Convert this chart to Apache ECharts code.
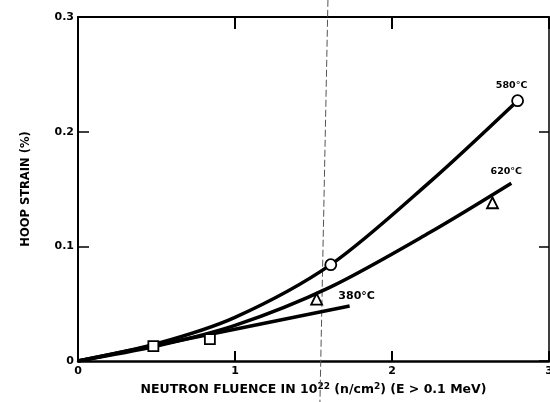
<!DOCTYPE html>
<html><head><meta charset="utf-8">
<script src="https://cdn.jsdelivr.net/npm/echarts@6/dist/echarts.min.js"></script>
<style>html,body{margin:0;padding:0;background:#fff}#c{width:550px;height:402px}</style>
</head><body><div id="c"></div>
<script>
// Axis ranges / ticks
const xTicks = [0, 1, 2, 3];
const yTicks = [0, 0.1, 0.2, 0.3];

// 580°C fitted curve and measured points (circles)
const curve580X = [0, 0.5, 1.0, 1.61, 2.24, 2.80];
const curve580Y = [0, 0.015, 0.038, 0.084, 0.156, 0.227];
const pts580X = [1.61, 2.80];
const pts580Y = [0.084, 0.227];

// 620°C fitted curve and measured points (triangles)
const curve620X = [0, 0.5, 1.0, 1.6, 2.24, 2.76];
const curve620Y = [0, 0.013, 0.031, 0.064, 0.112, 0.155];
const pts620X = [1.52, 2.64];
const pts620Y = [0.054, 0.138];

// 380°C fitted line and measured points (squares)
const curve380X = [0, 1.73];
const curve380Y = [0, 0.048];
const pts380X = [0.48, 0.84];
const pts380Y = [0.013, 0.019];

// scan artifact (thin vertical line)
const scanLineX = [1.592, 1.541];
const scanLineY = [0.315, -0.036];

const seriesLabels = ['580°C', '620°C', '380°C'];

const zip = (xs, ys) => xs.map((x, i) => [x, ys[i]]);
const FONT = 'DejaVu Sans';

function curveSeries(xs, ys, text, size, offset) {
  const last = xs.length - 1;
  return {
    type: 'line', data: zip(xs, ys), smooth: 0.3,
    symbol: 'circle', symbolSize: 1, showSymbol: true, showAllSymbol: true,
    itemStyle: {color: 'rgba(0,0,0,0)'},
    lineStyle: {color: '#000', width: 3.5}, z: 3,
    label: {show: true, position: 'inside', offset: offset,
      formatter: p => p.dataIndex === last ? text : '',
      color: '#000', fontFamily: FONT, fontWeight: 'bold', fontSize: size},
    emphasis: {disabled: true}, silent: true, animation: false
  };
}
function markerSeries(xs, ys, symbol, size) {
  return {
    type: 'scatter', data: zip(xs, ys), symbol: symbol, symbolSize: size,
    itemStyle: {color: '#fff', borderColor: '#000', borderWidth: 1.8, opacity: 1},
    z: 5, silent: true, animation: false
  };
}

const chart = echarts.init(document.getElementById('c'), null, {renderer: 'canvas'});
const xRange = {
  min: xTicks[0], max: xTicks[xTicks.length - 1], interval: xTicks[1] - xTicks[0]
};
const yRange = {
  min: yTicks[0], max: yTicks[yTicks.length - 1], interval: yTicks[1] - yTicks[0]
};
chart.setOption({
  backgroundColor: '#fff',
  animation: false,
  grid: {left: 78, right: 1, top: 17, bottom: 41, containLabel: false, outerBoundsMode: 'none'},
  xAxis: [{
    type: 'value', position: 'bottom', ...xRange,
    splitLine: {show: false},
    axisLine: {onZero: false, lineStyle: {color: '#000', width: 2.5}},
    axisTick: {inside: true, length: 10, lineStyle: {color: '#000', width: 2}},
    axisLabel: {color: '#000', fontFamily: FONT, fontWeight: 'bold', fontSize: 11, margin: 5},
    name: '{a|NEUTRON FLUENCE IN 10}{s|22}{a| (n/cm}{s|2}{a|) (E > 0.1 MeV)}',
    nameLocation: 'middle', nameGap: 21,
    nameTextStyle: {rich: {
      a: {color: '#000', fontFamily: FONT, fontWeight: 'bold', fontSize: 12.5},
      s: {color: '#000', fontFamily: FONT, fontWeight: 'bold', fontSize: 9, padding: [0, 0, 7, 0]}
    }}
  }, {
    type: 'value', position: 'top', ...xRange,
    splitLine: {show: false},
    axisLine: {onZero: false, lineStyle: {color: '#000', width: 2}},
    axisTick: {inside: true, length: 12, lineStyle: {color: '#000', width: 2}},
    axisLabel: {show: false}
  }],
  yAxis: [{
    type: 'value', position: 'left', ...yRange,
    splitLine: {show: false},
    axisLine: {onZero: false, lineStyle: {color: '#000', width: 2}},
    axisTick: {inside: true, length: 11, lineStyle: {color: '#000', width: 1.5}},
    axisLabel: {color: '#000', fontFamily: FONT, fontWeight: 'bold', fontSize: 11, margin: 4,
      formatter: v => v === 0 ? '0' : v.toFixed(1)},
    name: 'HOOP STRAIN (%)', nameLocation: 'middle', nameGap: 46, nameRotate: 90,
    nameTextStyle: {color: '#000', fontFamily: FONT, fontWeight: 'bold', fontSize: 11.5}
  }, {
    type: 'value', position: 'right', ...yRange,
    splitLine: {show: false},
    axisLine: {onZero: false, lineStyle: {color: '#000', width: 1.5}},
    axisTick: {inside: true, length: 10, lineStyle: {color: '#000', width: 1.5}},
    axisLabel: {show: false}
  }],
  series: [
    {type: 'line', data: zip(scanLineX, scanLineY), symbol: 'none', clip: false,
     lineStyle: {color: '#555', width: 1, type: [7, 3]}, z: 1, silent: true},
    curveSeries(curve580X, curve580Y, seriesLabels[0], 9.5, [-6, -15]),
    curveSeries(curve620X, curve620Y, seriesLabels[1], 9.5, [-5, -12]),
    curveSeries(curve380X, curve380Y, seriesLabels[2], 11, [7, -10]),
    markerSeries(pts580X, pts580Y, 'circle', 11),
    markerSeries(pts620X, pts620Y, 'triangle', 11),
    markerSeries(pts380X, pts380Y, 'rect', 10)
  ]
});
</script>
</body></html>
